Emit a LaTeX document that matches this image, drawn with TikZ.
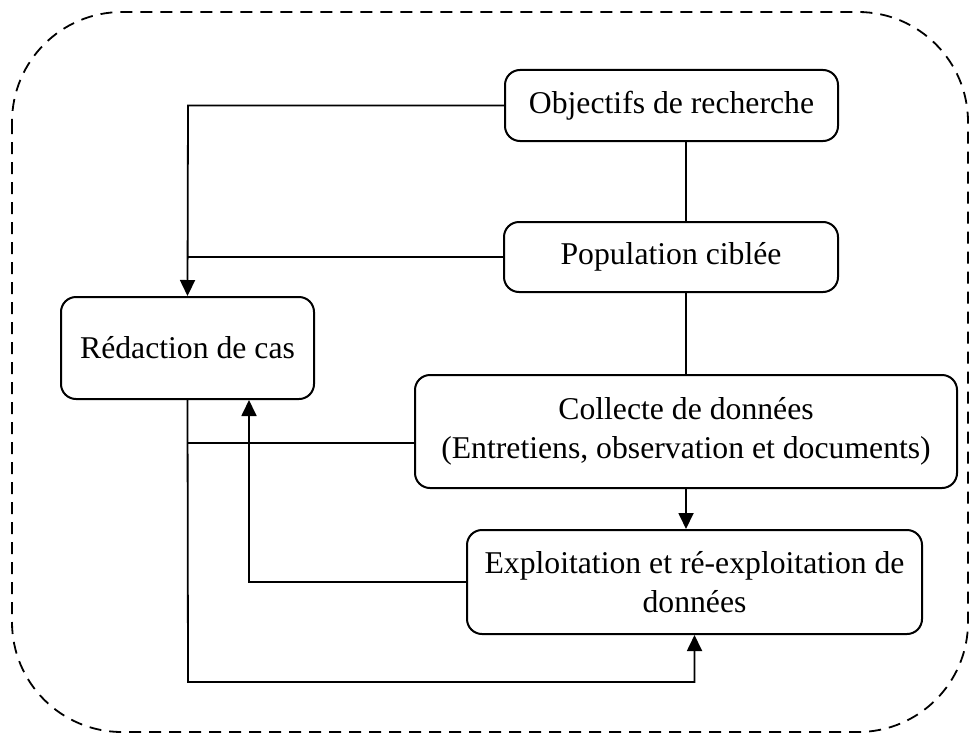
\documentclass[tikz,border=0pt]{standalone}
\usepackage{fontspec}
\setmainfont{Liberation Serif}
\usetikzlibrary{arrows.meta,calc}
\tikzset{
  box/.style={draw, line width=1pt, rounded corners=7.5pt, align=center, inner sep=0pt,
    font=\fontsize{15.85}{19.5}\selectfont},
  conn/.style={line width=0.9pt},
  arr/.style={conn, -{Triangle[length=8pt,width=7.5pt]}},
  outer/.style={draw, line width=0.9pt, dash pattern=on 6pt off 4pt, rounded corners=55pt}
}
\begin{document}
\begin{tikzpicture}[x=0.5pt,y=-0.5pt]
\useasboundingbox (0,0) rectangle (977,738);
\draw[outer] (12,12) rectangle (968,732);
\node[box, minimum width=166.5pt, minimum height=35.5pt] (obj) at (671.5,105.5) {Objectifs de recherche};
\node[box, minimum width=167pt, minimum height=35pt] (pop) at (671,257) {Population ciblée};
\node[box, minimum width=126.5pt, minimum height=51pt] (red) at (187.5,348) {Rédaction de cas};
\node[box, minimum width=271pt, minimum height=56.5pt] (col) at (686,431.5) {Collecte de données\\(Entretiens, observation et documents)};
\node[box, minimum width=227.5pt, minimum height=52pt] (exp) at (694.5,582) {Exploitation et ré-exploitation de\\données};
\coordinate (c1) at (188,105.5);
\coordinate (c2) at (188,682);
\coordinate (c3) at (249,582);
\draw[arr] (obj.west) -- (c1) -- (red.north);
\draw[conn] (pop.west) -- (pop.west -| red.north);
\draw[conn] (obj.south -| col.north) -- (pop.north -| col.north);
\draw[conn] (pop.south -| col.north) -- (col.north);
\draw[arr] (col.south) -- (col.south |- exp.north);
\draw[conn] ($(col.west)+(0,11.5)$) -- ($(col.west -| red.south)+(0,11.5)$);
\draw[arr] (red.south) -- (c2) -- (c2 -| exp.south) -- (exp.south);
\draw[arr] (exp.west) -- (c3) -- (c3 |- red.south);
\end{tikzpicture}
\end{document}
